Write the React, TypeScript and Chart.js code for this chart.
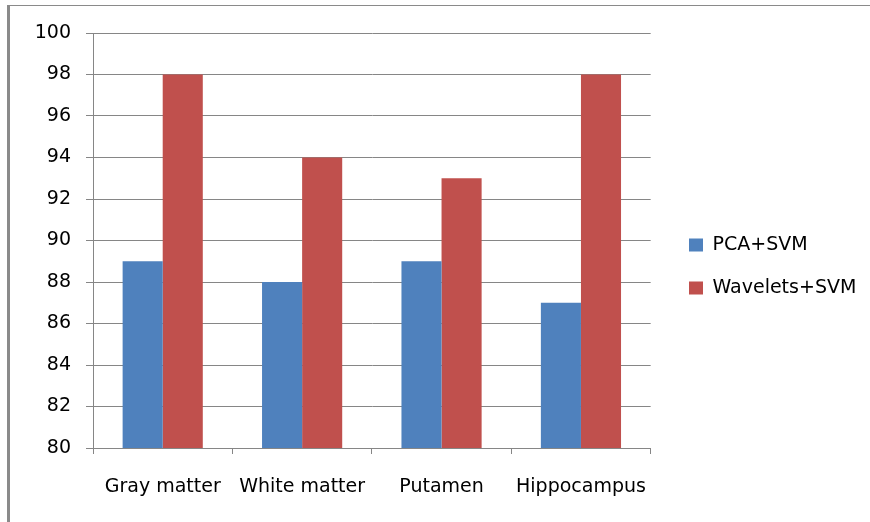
import React, { useEffect, useRef } from "react";
import { Chart, registerables } from "chart.js";

Chart.register(...registerables);

const categories = ["Gray matter", "White matter", "Putamen", "Hippocampus"];
const pcaSvm = [89, 88, 89, 87];
const waveletsSvm = [98, 94, 93, 98];
const seriesNames = ["PCA+SVM", "Wavelets+SVM"];
const yMin = 80;
const yMax = 100;
const yStep = 2;

const FONT = "'DejaVu Sans', sans-serif";
const GRID = "#868686";

const legendShift = {
  id: "legendShift",
  afterLayout(chart: any) {
    const lg = chart.legend;
    if (!lg) return;
    const pad = lg.options.labels.padding;
    const dx = 689 - pad - lg.left;
    lg.left += dx;
    lg.right += dx;
    const colH = lg.columnSizes ? lg.columnSizes[0].height : 0;
    const curCenter = (lg.top + pad + lg.bottom - colH) / 2;
    const dy = 236 - 0.5 - curCenter;
    lg.top += dy;
    lg.bottom += dy;
  },
};

export default function App() {
  const ref = useRef<HTMLCanvasElement>(null);
  useEffect(() => {
    const chart = new Chart(ref.current!, {
      type: "bar",
      data: {
        labels: categories,
        datasets: [
          { label: seriesNames[0], data: pcaSvm, backgroundColor: "#4F81BD", borderWidth: 0 },
          { label: seriesNames[1], data: waveletsSvm, backgroundColor: "#C0504D", borderWidth: 0 },
        ],
      },
      options: {
        animation: false,
        responsive: false,
        layout: { padding: { top: 33, left: 0, right: 18, bottom: 0 } },
        plugins: {
          tooltip: { enabled: false },
          legend: {
            position: "right",
            align: "center",
            labels: {
              boxWidth: 14,
              boxHeight: 13,
              padding: 24,
              color: "#000",
              font: { family: FONT, size: 19 },
            },
          },
        },
        datasets: { bar: { categoryPercentage: 0.575, barPercentage: 1 } },
        scales: {
          x: {
            grid: {
              offset: true,
              drawOnChartArea: false,
              drawTicks: true,
              tickLength: 6,
              color: GRID,
            },
            border: { color: GRID, width: 1 },
            ticks: {
              color: "#000",
              font: { family: FONT, size: 19 },
              padding: 22,
              maxRotation: 0,
            },
            afterFit(scale: any) {
              scale.height = 522 - 448;
            },
          },
          y: {
            min: yMin,
            max: yMax,
            ticks: {
              stepSize: yStep,
              color: "#000",
              font: { family: FONT, size: 19 },
              padding: 15,
            },
            grid: { color: GRID, tickLength: 7, drawTicks: true },
            border: { color: GRID, width: 1 },
            afterFit(scale: any) {
              scale.width = 93;
            },
          },
        },
      } as any,
      plugins: [legendShift],
    });
    return () => chart.destroy();
  }, []);
  return (
    <div style={{ position: "fixed", left: 0, top: 0, width: 870, height: 522, background: "#fff" }}>
      <canvas ref={ref} width={870} height={522} style={{ position: "absolute", left: 0, top: 0 }} />
      <div
        style={{
          position: "absolute",
          left: 7,
          top: 5,
          width: 870,
          height: 530,
          borderTop: "1px solid #8a8a8a",
          borderLeft: "3px solid #8a8a8a",
          pointerEvents: "none",
        }}
      />
    </div>
  );
}
